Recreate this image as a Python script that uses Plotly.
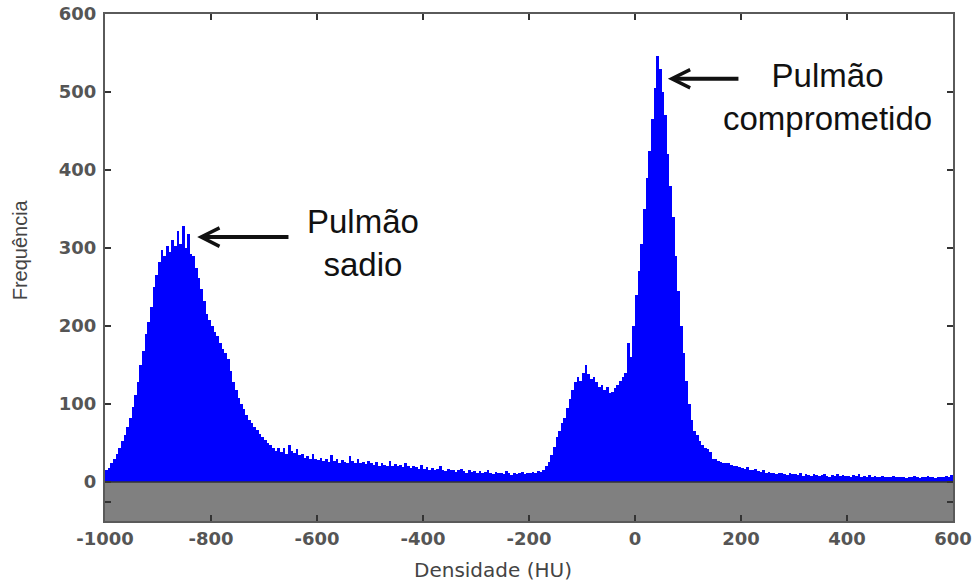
import plotly.graph_objects as go

# Histogram: bin start (HU), 5-HU bins from -1000 to 600
bin_start = -1000
bin_width = 5

freq = [
    # -1000 .. -905
    15, 18, 24, 30, 36, 44, 52, 60, 70, 82, 96, 112, 128, 150, 168, 190, 205, 225, 250, 265,
    # -900 .. -805
    282, 298, 290, 303, 295, 310, 302, 322, 305, 328, 300, 318, 292, 290, 275, 262, 248, 232, 215, 208,
    # -800 .. -705
    200, 192, 187, 178, 170, 165, 158, 142, 128, 118, 108, 100, 94, 86, 80, 76, 70, 67, 62, 58,
    # -700 .. -605
    54, 50, 47, 44, 40, 44, 38, 43, 36, 48, 40, 37, 42, 34, 36, 31, 33, 30, 36, 29,
    # -600 .. -505
    28, 31, 27, 30, 26, 34, 27, 29, 25, 28, 26, 24, 33, 27, 25, 29, 24, 26, 23, 27,
    # -500 .. -405
    24, 22, 26, 21, 25, 22, 20, 27, 21, 23, 20, 22, 19, 24, 21, 18, 20, 19, 17, 22,
    # -400 .. -305
    17, 19, 16, 18, 15, 17, 20, 16, 14, 17, 15, 16, 13, 15, 17, 14, 12, 15, 13, 14,
    # -300 .. -205
    12, 14, 11, 13, 15, 12, 10, 13, 11, 12, 10, 14, 11, 9, 12, 10, 11, 13, 10, 12,
    # -200 .. -105
    11, 13, 12, 14, 13, 16, 20, 26, 35, 45, 58, 66, 76, 82, 95, 106, 118, 128, 134, 130,
    # -100 .. -5
    140, 150, 138, 132, 135, 128, 122, 125, 118, 122, 114, 116, 120, 125, 130, 134, 140, 178, 160, 200,
    # 0 .. 95
    240, 270, 305, 350, 390, 425, 465, 505, 546, 530, 500, 470, 420, 380, 340, 290, 245, 200, 165, 130,
    # 100 .. 195
    100, 80, 66, 60, 52, 48, 44, 42, 38, 30, 29, 27, 26, 25, 24, 25, 22, 21, 20, 19,
    # 200 .. 295
    18, 17, 19, 16, 15, 17, 14, 13, 15, 12, 13, 11, 12, 10, 11, 12, 10, 9, 11, 10,
    # 300 .. 395
    10, 9, 11, 8, 10, 9, 8, 10, 9, 8, 9, 10, 8, 7, 9, 8, 10, 8, 9, 8,
    # 400 .. 495
    8, 7, 9, 8, 10, 7, 8, 6, 9, 7, 8, 7, 6, 8, 7, 6, 7, 8, 6, 7,
    # 500 .. 595
    6, 7, 5, 6, 7, 8, 6, 5, 7, 6, 8, 6, 7, 5, 6, 7, 6, 8, 7, 9,
]

x_ticks = [-1000, -800, -600, -400, -200, 0, 200, 400, 600]
x_tick_text = ["-1000", "-800", "-600", "-400", "-200", "0", "200", "400", "600"]
y_ticks = [-25, 0, 100, 200, 300, 400, 500, 600]
y_tick_text = ["", "0", "100", "200", "300", "400", "500", "600"]

x_centers = [bin_start + bin_width * (i + 0.5) for i in range(len(freq))]

fig = go.Figure()
fig.add_trace(go.Bar(
    x=x_centers, y=freq, width=bin_width,
    marker=dict(color="#0000ff", line=dict(width=0)),
    hoverinfo="x+y",
))

# gray band below zero
fig.add_shape(type="rect", xref="paper", yref="y", x0=0, x1=1, y0=-50, y1=0,
              fillcolor="#808080", line=dict(width=0), layer="below")
fig.add_shape(type="line", xref="paper", yref="y", x0=0, x1=1, y0=0, y1=0,
              line=dict(color="#333333", width=1.5))

ann_font = dict(family="Liberation Sans, Arial", size=33, color="#111111")
fig.add_annotation(x=-826, y=314, ax=-651, ay=314, axref="x", ayref="y",
                   xref="x", yref="y", text="", showarrow=True,
                   arrowhead=5, arrowsize=0.9, arrowwidth=4, arrowcolor="#111111")
fig.add_annotation(x=62, y=517, ax=198, ay=517, axref="x", ayref="y",
                   xref="x", yref="y", text="", showarrow=True,
                   arrowhead=5, arrowsize=0.9, arrowwidth=4, arrowcolor="#111111")
fig.add_annotation(x=-513, y=306, xref="x", yref="y", text="Pulmão<br>sadio",
                   showarrow=False, font=ann_font, align="center")
fig.add_annotation(x=364, y=494, xref="x", yref="y", text="Pulmão<br>comprometido",
                   showarrow=False, font=ann_font, align="center")

# axis titles
fig.add_annotation(x=-268, y=0, xref="x", yref="paper", yshift=-35,
                   text="Densidade (HU)", showarrow=False, yanchor="top",
                   font=dict(family="DejaVu Sans", size=20, color="#444444"))
fig.add_annotation(x=0, xref="paper", xshift=-98, y=297, yref="y",
                   text="Frequência", showarrow=False, textangle=-90,
                   font=dict(family="Liberation Sans, Arial", size=20, color="#444444"))

axis_common = dict(
    showline=True, linecolor="#5a5a5a", linewidth=2, mirror="ticks",
    ticks="inside", ticklen=6, tickwidth=2, tickcolor="#333333",
    showgrid=False, zeroline=False, automargin=False,
    tickfont=dict(family="DejaVu Sans", size=18, color="#555555", weight="bold"),
)

fig.update_layout(
    width=977, height=583,
    margin=dict(l=105, r=24, t=14, b=62),
    plot_bgcolor="white", paper_bgcolor="white",
    bargap=0, showlegend=False,
    xaxis=dict(range=[-1000, 600], tickvals=x_ticks, ticktext=x_tick_text,
               ticklabelstandoff=0, **axis_common),
    yaxis=dict(range=[-50, 600], tickvals=y_ticks, ticktext=y_tick_text,
               ticklabelstandoff=3, **axis_common),
)

fig.write_html("out.html", config={"displayModeBar": False},
               post_script="document.body.style.margin='0px';")
